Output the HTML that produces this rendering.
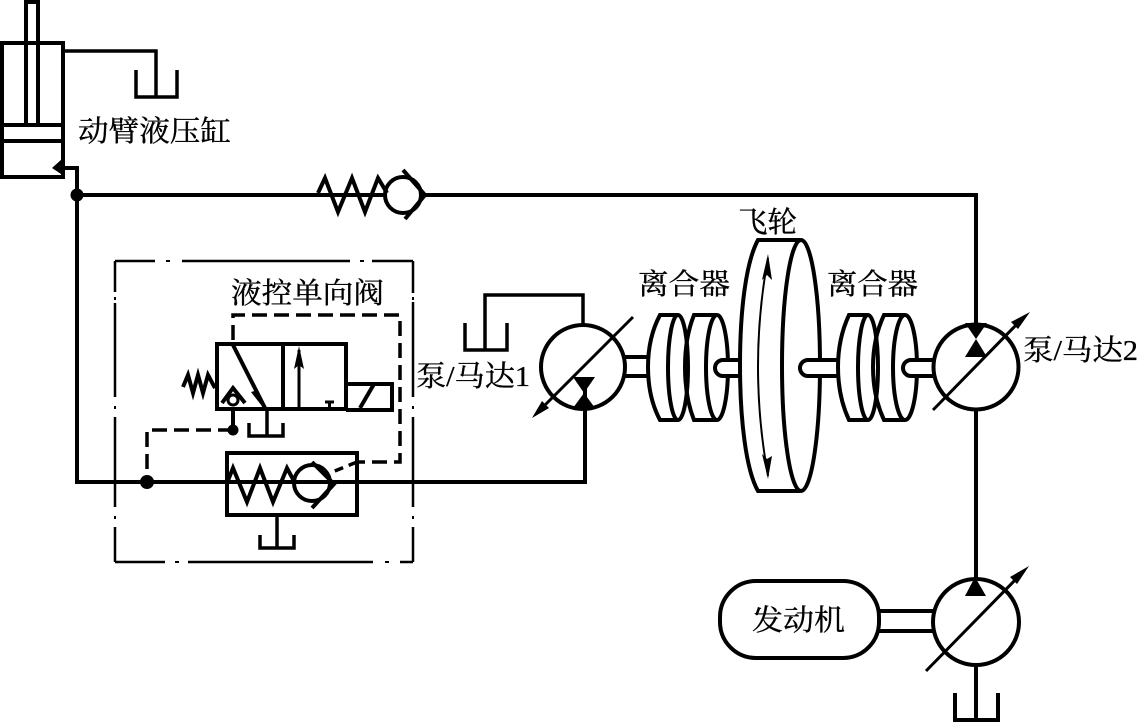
<!DOCTYPE html>
<html lang="zh">
<head>
<meta charset="utf-8">
<style>
html,body{margin:0;padding:0;background:#fff;width:1138px;height:722px;overflow:hidden}
svg{display:block}
text{font-family:"Liberation Serif","Noto Serif CJK SC",serif;fill:#000;stroke:#000;stroke-width:.35px;font-size:29px}
.l{fill:none;stroke:#000;stroke-width:4;stroke-linejoin:miter}
.t{fill:none;stroke:#000;stroke-width:3}
.b{fill:#000;stroke:none}
.d{fill:none;stroke:#000;stroke-width:3.5;stroke-dasharray:15 7}
.x{fill:none;stroke:#000;stroke-width:2.5}
</style>
</head>
<body>
<svg width="1138" height="722" viewBox="0 0 1138 722" xmlns="http://www.w3.org/2000/svg">
<!-- cylinder -->
<rect class="l" x="2" y="43" width="61" height="134"/>
<path class="l" d="M26,43V2H38V43M26,43V125M38,43V125"/>
<path class="l" d="M2,125H63M2,141H63"/>
<path class="l" style="stroke-width:3.5" d="M63,51H156V97M136,70V97H177V70"/>
<path class="b" d="M52,168L62,159L64,176Z"/>
<path class="l" d="M62,168H77V482H585V385"/>
<circle class="b" cx="77" cy="195" r="6.5"/>
<path class="l" d="M77,195H976V330"/>
<!-- check valve top -->
<circle cx="403" cy="195" r="18" fill="#fff" stroke="#000" stroke-width="4"/>
<path class="l" d="M318,193L325,178L338,212L352,178L365,212L378,178L387,193"/>
<path class="l" d="M403,170L425,195L405,219"/>
<path class="l" d="M421,195H440"/>
<!-- dash dot box -->
<path class="x" d="M115,261H155M182,261H350M372,261H413"/>
<path class="x" d="M115,562H165M188,562H373M400,562H413"/>
<path class="x" d="M115,261V292M115,303V397M115,417V507M115,527V562"/>
<path class="x" d="M413,261V293M413,302V397M413,417V507M413,527V562"/>
<path class="b" d="M166,260h4v2h-4zM360,260h4v2h-4zM175,561h4v2h-4zM385,561h4v2h-4zM114,297h2v3h-2zM114,406h2v3h-2zM114,516h2v3h-2zM412,297h2v3h-2zM412,406h2v3h-2zM412,516h2v3h-2z"/>
<!-- directional valve -->
<rect class="l" x="217" y="344" width="129" height="65"/>
<path class="l" d="M283,344V409"/>
<path class="l" d="M346,384H392V410H346M360,408L374,384"/>
<path class="l" d="M183,387L188,375L193,393L198,375L203,393L208,375L215,388"/>
<circle cx="233" cy="400" r="5" fill="#fff" stroke="#000" stroke-width="3"/>
<path class="l" d="M222,403L233,388L245,403M233,409V430"/>
<circle class="b" cx="233" cy="430" r="5.500"/>
<path class="d" d="M233,430H147V482"/>
<circle class="b" cx="147" cy="482" r="7"/>
<path class="l" d="M233,345L265,408"/>
<path class="b" d="M265,410L251,392L258,390Z"/>
<path class="t" d="M299,409V350"/>
<path class="b" d="M299,346L304,369L299,365L294,369Z"/>
<path class="t" d="M325,402H334M329.500,402V409"/>
<path class="l" style="stroke-width:3.500" d="M267,409V436M249,423V436H283V423"/>
<path class="d" d="M233,340V315H400V462H357"/>
<path class="d" style="stroke-dasharray:9 6" d="M357,462L330,473"/>
<!-- pilot check valve -->
<rect class="l" x="227" y="453" width="130" height="62"/>
<circle cx="312" cy="483" r="18" fill="#fff" stroke="#000" stroke-width="4"/>
<path class="l" d="M227,483L233,468L247,502L260,468L273,502L287,468L295,483"/>
<path class="l" d="M312,462L334,484L312,508"/>
<path class="l" d="M295,482H585"/>
<path class="l" style="stroke-width:3.500" d="M277,515V548M260,535V548H294V535"/>
<!-- pump 1 -->
<circle class="l" cx="583" cy="367" r="42"/>
<path class="l" style="stroke-width:3" d="M633,317L540,410"/>
<path class="b" d="M532,418L542,401L549,408Z"/>
<path class="b" d="M573,377H595L584,393L595,408H573L584,393Z"/>
<path class="l" style="stroke-width:3.500" d="M583,325V295H485V350M465,323V350H507V323"/>
<!-- shaft 1 -->
<path class="l" d="M625,357H648M625,376H648"/>
<!-- clutch 1 -->
<path class="l" d="M678,315H660C652,330 648,348 648,367C648,388 652,405 660,420H678"/>
<ellipse class="l" cx="678" cy="367.500" rx="10" ry="52.500"/>
<path class="l" d="M717,315H694C688,330 685,348 685,367C685,388 688,405 694,420H717"/>
<ellipse class="l" cx="717" cy="367.500" rx="11" ry="52.500"/>
<path fill="#fff" stroke="#000" stroke-width="4" d="M741,360H723A8,8 0 0 0 723,376H741"/>
<!-- flywheel -->
<path class="l" d="M800,240H758C746,262 740,310 740,365C740,420 746,470 758,491H800"/>
<ellipse class="l" cx="801" cy="365.500" rx="19" ry="125.500"/>
<path class="t" style="stroke-width:2" d="M768,258Q748,366 768,476"/>
<path class="b" d="M768,254L772,280L767,275L762,280Z"/>
<path class="b" d="M768,479L762,454L767,459L772,456Z"/>
<path fill="#fff" stroke="#000" stroke-width="4" d="M839,360H808A8,8 0 0 0 808,376H839"/>
<!-- clutch 2 -->
<path class="l" d="M868,315H849C842,330 838,348 838,367C838,388 842,405 849,420H868"/>
<ellipse class="l" cx="868" cy="367.500" rx="10" ry="52.500"/>
<path class="l" d="M905,315H884C877,330 873,348 873,367C873,388 877,405 884,420H905"/>
<ellipse class="l" cx="905" cy="367.500" rx="12" ry="52.500"/>
<path fill="#fff" stroke="#000" stroke-width="4" d="M933,360H911A8,8 0 0 0 911,376H933"/>
<!-- pump 2 -->
<circle class="l" cx="976" cy="367" r="42.500"/>
<path class="l" style="stroke-width:3" d="M1020,321L933,410"/>
<path class="b" d="M1030,312L1018,329L1011,322Z"/>
<path class="b" d="M965,323H987L976,339L987,357H965L976,339Z"/>
<path class="l" d="M976,410V578"/>
<!-- pump 3 -->
<circle class="l" cx="976" cy="622" r="43"/>
<path class="b" d="M975,577L986,596H965Z"/>
<path class="l" style="stroke-width:3" d="M1020,575L926,671"/>
<path class="b" d="M1029,566L1017,584L1010,577Z"/>
<path class="l" d="M976,665V720M955,693V720H998V693"/>
<!-- engine -->
<rect class="l" x="720" y="581" width="159" height="77" rx="36" ry="36"/>
<path class="l" d="M879,611H933M879,631H933"/>
<!-- labels -->
<text x="78" y="141" textLength="153" lengthAdjust="spacingAndGlyphs">动臂液压缸</text>
<text x="231" y="303" textLength="153" lengthAdjust="spacingAndGlyphs">液控单向阀</text>
<text x="416" y="386" textLength="114" lengthAdjust="spacingAndGlyphs">泵/马达1</text>
<text x="1023" y="360" textLength="115" lengthAdjust="spacingAndGlyphs">泵/马达2</text>
<text x="638" y="294" textLength="92" lengthAdjust="spacingAndGlyphs">离合器</text>
<text x="827" y="294" textLength="91" lengthAdjust="spacingAndGlyphs">离合器</text>
<text x="738" y="232" textLength="59" lengthAdjust="spacingAndGlyphs">飞轮</text>
<text x="752" y="630" textLength="93" lengthAdjust="spacingAndGlyphs">发动机</text>
</svg>
</body>
</html>
